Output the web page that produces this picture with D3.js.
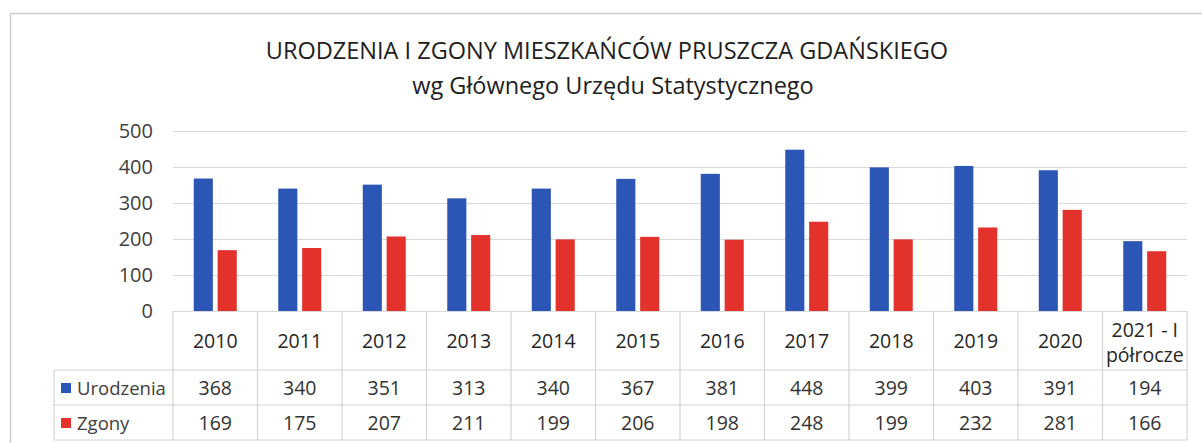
<!DOCTYPE html>
<html>
<head>
<meta charset="utf-8">
<script src="https://cdn.jsdelivr.net/npm/d3@7"></script>
<style>
  body { margin: 0; background: #fff; }
  svg { display: block; font-family: "Open Sans", sans-serif; }
</style>
</head>
<body>
<div id="chart"></div>
<script>
const categories = ["2010", "2011", "2012", "2013", "2014", "2015", "2016", "2017", "2018", "2019", "2020", "2021 - I|półrocze"];
const seriesNames = ["Urodzenia", "Zgony"];
const urodzenia = [368, 340, 351, 313, 340, 367, 381, 448, 399, 403, 391, 194];
const zgony = [169, 175, 207, 211, 199, 206, 198, 248, 199, 232, 281, 166];
const yTicks = [0, 100, 200, 300, 400, 500];
const colors = ["#2c56b5", "#e2322b"];

const width = 1202;
const height = 443;
const plotLeft = 173, plotRight = 1187;
const plotTop = 131, plotBottom = 311;
const headerBottom = 370, row1Bottom = 405, tableBottom = 440;
const legendLeft = 54;

const svg = d3.select("#chart").append("svg")
  .attr("width", width).attr("height", height);

// ramka
svg.append("rect")
  .attr("x", 10.5).attr("y", 13.5)
  .attr("width", 1202).attr("height", 440)
  .attr("fill", "none").attr("stroke", "#cfcfcf").attr("stroke-width", 1.5);

// tytuł
svg.append("text").attr("x", 607).attr("y", 59).attr("text-anchor", "middle")
  .attr("font-size", 23.5).attr("fill", "#1e1e1e")
  .text("URODZENIA I ZGONY MIESZKAŃCÓW PRUSZCZA GDAŃSKIEGO");
svg.append("text").attr("x", 613).attr("y", 94).attr("text-anchor", "middle")
  .attr("font-size", 23.5).attr("fill", "#1e1e1e")
  .text("wg Głównego Urzędu Statystycznego");

const x = d3.scaleBand().domain(categories).range([plotLeft, plotRight]);
const x1 = d3.scaleBand().domain(seriesNames).range([-21.5, 21.5]).paddingInner(0.2);
const y = d3.scaleLinear().domain([0, 500]).range([plotBottom, plotTop]);

// siatka
svg.append("g").selectAll("line").data(yTicks).join("line")
  .attr("x1", plotLeft).attr("x2", plotRight)
  .attr("y1", d => y(d) + 0.5).attr("y2", d => y(d) + 0.5)
  .attr("stroke", "#d9d9d9").attr("stroke-width", 1.2);

// oś Y
const yAxis = svg.append("g")
  .attr("transform", `translate(${plotLeft - 20},0)`)
  .call(d3.axisLeft(y).tickValues(yTicks).tickSize(0).tickPadding(0));
yAxis.select(".domain").remove();
yAxis.selectAll("text").attr("font-size", 20).attr("fill", "#404040")
  .attr("font-family", "Open Sans, sans-serif");

// słupki
const seriesData = [urodzenia, zgony];
seriesNames.forEach((name, si) => {
  svg.append("g").selectAll("rect").data(seriesData[si]).join("rect")
    .attr("x", (d, i) => x(categories[i]) + x.bandwidth() / 2 + x1(name))
    .attr("y", d => y(d))
    .attr("width", x1.bandwidth())
    .attr("height", d => y(0) - y(d))
    .attr("fill", colors[si]);
});

// tabela danych
const tbl = svg.append("g").attr("stroke", "#d4d4d4").attr("stroke-width", 1.2);
const edges = categories.map(c => x(c)).concat([plotRight]);
tbl.selectAll(".v").data(edges).join("line")
  .attr("x1", d => d).attr("x2", d => d)
  .attr("y1", plotBottom).attr("y2", tableBottom);
tbl.append("line").attr("x1", legendLeft).attr("x2", legendLeft)
  .attr("y1", headerBottom).attr("y2", tableBottom);
[headerBottom, row1Bottom, tableBottom].forEach(yy => {
  tbl.append("line").attr("x1", legendLeft).attr("x2", plotRight)
    .attr("y1", yy).attr("y2", yy);
});

// etykiety kategorii
const catG = svg.append("g").attr("font-size", 19.5).attr("fill", "#262626").attr("text-anchor", "middle");
categories.forEach(c => {
  const parts = c.split("|");
  const cx = x(c) + x.bandwidth() / 2;
  if (parts.length === 1) {
    catG.append("text").attr("x", cx).attr("y", 348).text(parts[0]);
  } else {
    catG.append("text").attr("x", cx).attr("y", 337).text(parts[0]);
    catG.append("text").attr("x", cx).attr("y", 362).text(parts[1]);
  }
});

// wiersze wartości
const rowY = [395, 430];
seriesNames.forEach((name, si) => {
  svg.append("rect").attr("x", 61).attr("y", rowY[si] - 12)
    .attr("width", 10).attr("height", 10).attr("fill", colors[si]);
  svg.append("text").attr("x", 77).attr("y", rowY[si])
    .attr("font-size", 18.5).attr("fill", "#404040").text(name);
  svg.append("g").selectAll("text").data(seriesData[si]).join("text")
    .attr("x", (d, i) => x(categories[i]) + x.bandwidth() / 2)
    .attr("y", rowY[si])
    .attr("text-anchor", "middle").attr("font-size", 19.5).attr("fill", "#333")
    .text(d => d);
});
</script>
</body>
</html>
